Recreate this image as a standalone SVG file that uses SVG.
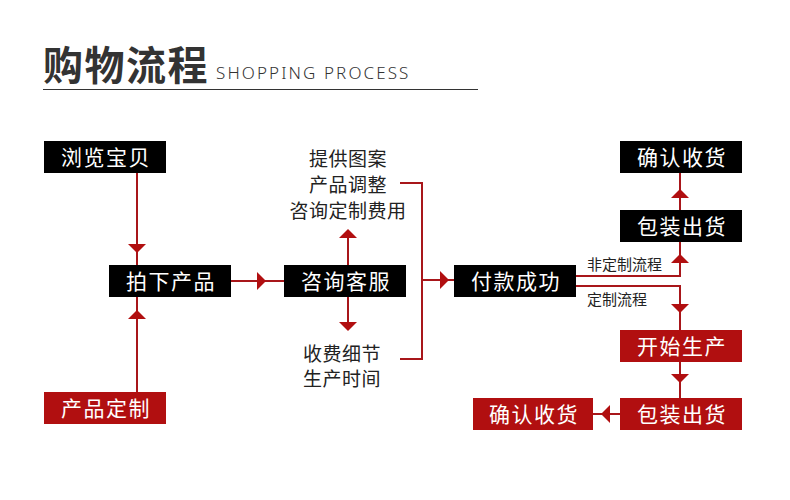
<svg xmlns="http://www.w3.org/2000/svg" width="790" height="500" viewBox="0 0 790 500">
<defs>
<style>
.title{font-family:"Noto Sans CJK SC","Noto Sans",sans-serif;font-weight:700;font-size:40px;fill:#333;letter-spacing:1.5px}
.sub{font-family:"Noto Sans","Open Sans",sans-serif;font-weight:300;font-size:17px;fill:#333;letter-spacing:2.1px}
.blk{fill:#000}
.red{fill:#b10f10}
.bt{font-family:"Noto Sans CJK SC",sans-serif;font-size:21px;fill:#fff;text-anchor:middle;letter-spacing:1.5px}
.lt{font-family:"Noto Sans CJK SC",sans-serif;font-size:19px;fill:#222;text-anchor:middle;letter-spacing:0.5px}
.st{font-family:"Noto Sans CJK SC",sans-serif;font-size:15px;fill:#222}
.ln{fill:none;stroke:#a8161a;stroke-width:2}
.ah{fill:#b10f10}
</style>
<polygon id="down" points="-9,-8 9,-8 0,1"/>
</defs>
<g id="header">
<text class="title" x="43" y="80">购物流程</text>
<text class="sub" x="216" y="79">SHOPPING PROCESS</text>
<line x1="43" y1="89.5" x2="478" y2="89.5" stroke="#333" stroke-width="1"/>
</g>
<g id="connectors">
<path class="ln" d="M137,173 V265"/>
<path class="ln" d="M137,392 V297"/>
<path class="ln" d="M231,281 H284"/>
<path class="ln" d="M348,265 V232"/>
<path class="ln" d="M348,297 V328"/>
<path class="ln" d="M400,183 H422 V359 H400"/>
<path class="ln" d="M422,280 H454"/>
<path class="ln" d="M576,276 H680 V242"/>
<path class="ln" d="M680,210 V173"/>
<path class="ln" d="M576,286 H680 V330"/>
<path class="ln" d="M680,362 V398"/>
<path class="ln" d="M620,414 H593"/>
<use href="#down" class="ah" transform="translate(137,252)"/>
<use href="#down" class="ah" transform="translate(137,311) rotate(180)"/>
<use href="#down" class="ah" transform="translate(265,281) rotate(-90)"/>
<use href="#down" class="ah" transform="translate(348,230) rotate(180)"/>
<use href="#down" class="ah" transform="translate(348,330)"/>
<use href="#down" class="ah" transform="translate(448,280) rotate(-90)"/>
<use href="#down" class="ah" transform="translate(680,255) rotate(180)"/>
<use href="#down" class="ah" transform="translate(680,190) rotate(180)"/>
<use href="#down" class="ah" transform="translate(680,312)"/>
<use href="#down" class="ah" transform="translate(680,382)"/>
<use href="#down" class="ah" transform="translate(602,414) rotate(90)"/>
<text class="st" x="587" y="270">非定制流程</text>
<text class="st" x="587" y="305">定制流程</text>
</g>
<g id="n-browse"><rect class="blk" x="44" y="141" width="122" height="32"/><text class="bt" x="106" y="164.5">浏览宝贝</text></g>
<g id="n-order"><rect class="blk" x="109" y="265" width="122" height="32"/><text class="bt" x="171" y="288.5">拍下产品</text></g>
<g id="n-custom"><rect class="red" x="44" y="392" width="122" height="32"/><text class="bt" x="106" y="415.5">产品定制</text></g>
<g id="n-service"><rect class="blk" x="284" y="265" width="122" height="32"/><text class="bt" x="346" y="288.5">咨询客服</text></g>
<g id="t-top"><text class="lt" x="348" y="166">提供图案</text><text class="lt" x="348" y="192">产品调整</text><text class="lt" x="348" y="218">咨询定制费用</text></g>
<g id="t-bottom"><text class="lt" x="342" y="361">收费细节</text><text class="lt" x="342" y="386">生产时间</text></g>
<g id="n-pay"><rect class="blk" x="454" y="265" width="122" height="32"/><text class="bt" x="516" y="288.5">付款成功</text></g>
<g id="n-confirm1"><rect class="blk" x="620" y="141" width="122" height="32"/><text class="bt" x="682" y="164.5">确认收货</text></g>
<g id="n-ship1"><rect class="blk" x="620" y="210" width="122" height="32"/><text class="bt" x="682" y="233.5">包装出货</text></g>
<g id="n-produce"><rect class="red" x="620" y="330" width="122" height="32"/><text class="bt" x="682" y="353.5">开始生产</text></g>
<g id="n-ship2"><rect class="red" x="620" y="398" width="122" height="32"/><text class="bt" x="682" y="421.5">包装出货</text></g>
<g id="n-confirm2"><rect class="red" x="473" y="398" width="120" height="32"/><text class="bt" x="534" y="421.5">确认收货</text></g>
</svg>
